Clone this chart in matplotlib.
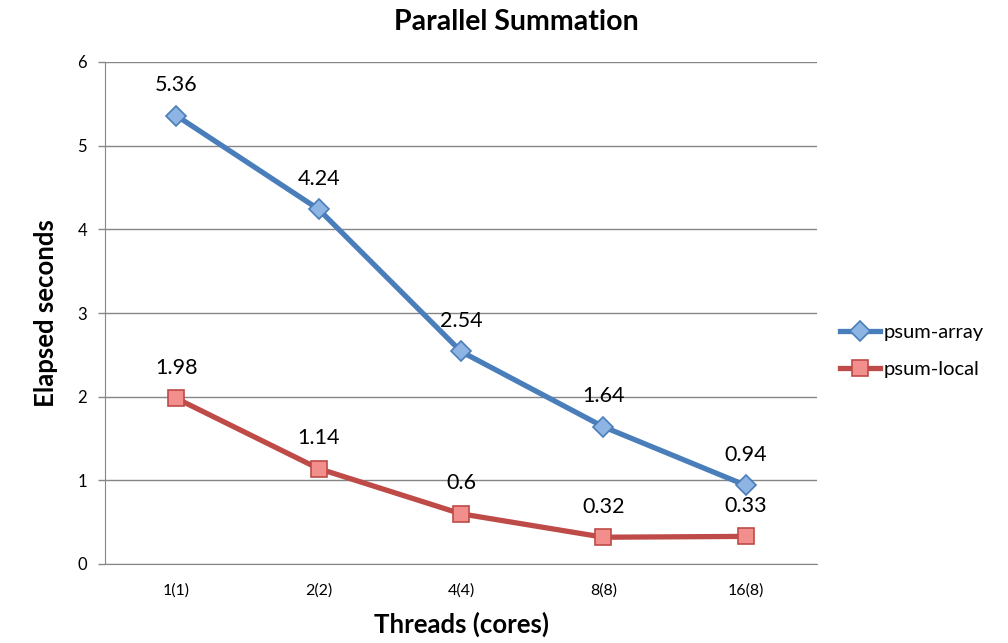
import matplotlib
matplotlib.use("Agg")
import matplotlib.pyplot as plt

categories = ["1(1)", "2(2)", "4(4)", "8(8)", "16(8)"]
psum_array = [5.36, 4.24, 2.54, 1.64, 0.94]
psum_local = [1.98, 1.14, 0.6, 0.32, 0.33]
array_labels = ["5.36", "4.24", "2.54", "1.64", "0.94"]
local_labels = ["1.98", "1.14", "0.6", "0.32", "0.33"]
yticks = [0, 1, 2, 3, 4, 5, 6]

plt.rcParams['font.family'] = ['Lato', 'DejaVu Sans']

fig = plt.figure(figsize=(10.08, 6.43), dpi=100)
ax = fig.add_axes([105/1008, 1-564/643, 712/1008, (564-62)/643])

x = list(range(len(categories)))
l1, = ax.plot(x, psum_array, color="#4A7EBB", lw=3.8, marker="D", markersize=10.5,
              markerfacecolor="#8DB4E2", markeredgecolor="#4A7EBB", markeredgewidth=1.2,
              label="psum-array", zorder=3)
l2, = ax.plot(x, psum_local, color="#BE4B48", lw=3.8, marker="s", markersize=11.5,
              markerfacecolor="#F28E8C", markeredgecolor="#BE4B48", markeredgewidth=1.2,
              label="psum-local", zorder=3)

for xi, v, t in zip(x, psum_array, array_labels):
    ax.annotate(t, (xi, v), xytext=(0, 22), textcoords="offset points",
                ha="center", va="center", fontsize=15.5)
for xi, v, t in zip(x, psum_local, local_labels):
    ax.annotate(t, (xi, v), xytext=(0, 22), textcoords="offset points",
                ha="center", va="center", fontsize=15.5)

ax.set_xlim(-0.5, len(categories) - 0.5)
ax.set_ylim(0, 6)
ax.set_yticks(yticks)
ax.set_xticks(x)
ax.set_xticklabels(categories, fontsize=11.5)
ax.tick_params(axis="y", labelsize=12, length=5, color="#868686", width=1, pad=8)
ax.tick_params(axis="x", length=0, pad=14)
ax.yaxis.grid(True, color="#868686", lw=1)
ax.set_axisbelow(True)
for s in ["top", "right"]:
    ax.spines[s].set_visible(False)
ax.spines["left"].set_color("#868686")
ax.spines["bottom"].set_color("#868686")

ax.set_xlabel("Threads (cores)", fontsize=18.5, fontweight="bold", labelpad=10)
ax.set_ylabel("Elapsed seconds", fontsize=18.5, fontweight="bold", labelpad=14)
fig.text(516/1008, 1-22/643, "Parallel Summation", ha="center", va="center",
         fontsize=20.5, fontweight="bold")

leg = fig.legend(handles=[l1, l2], loc="center left", bbox_to_anchor=(826/1008, 1-351/643),
                 frameon=False, fontsize=14.5, handlelength=2.0, handletextpad=0.15,
                 labelspacing=1.0, borderpad=0.2)

fig.savefig("out.png", dpi=100)
